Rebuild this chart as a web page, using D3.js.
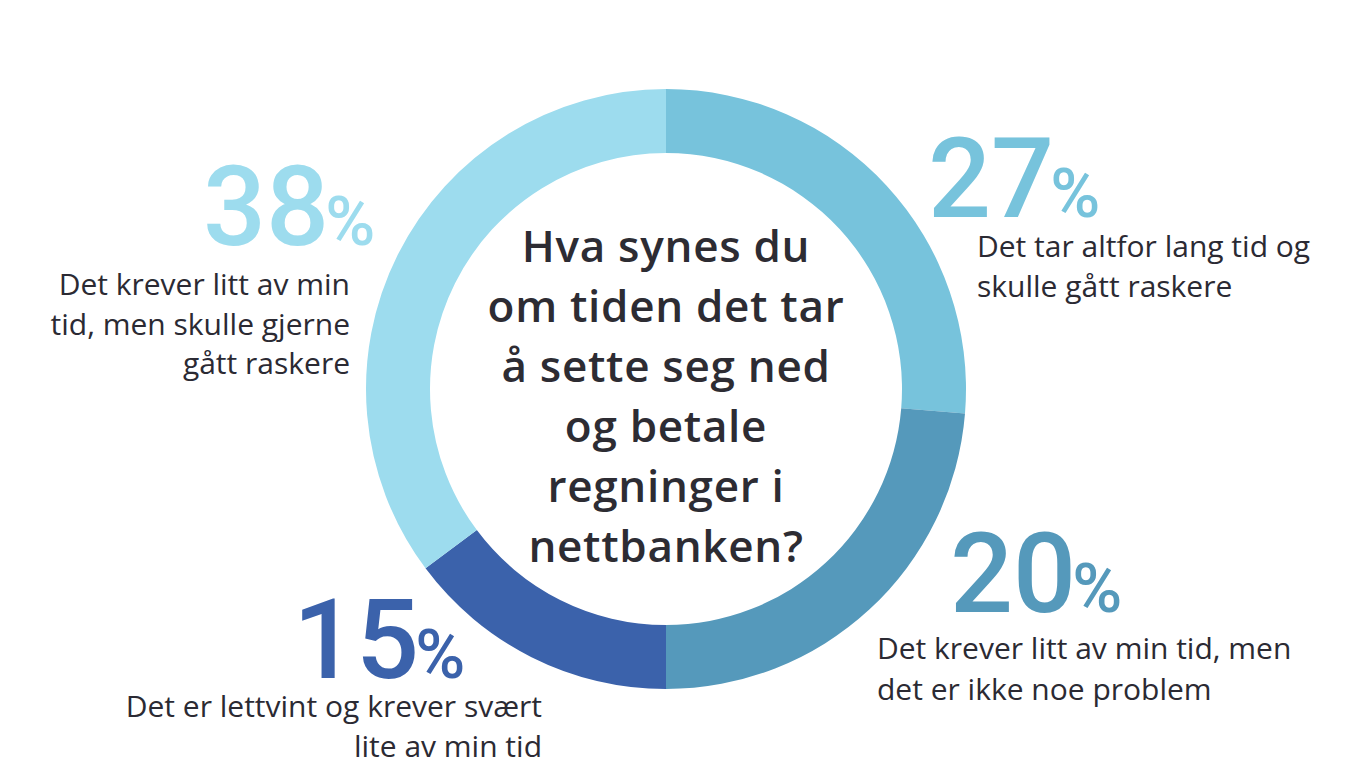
<!DOCTYPE html>
<html>
<head>
<meta charset="utf-8">
<script src="https://cdn.jsdelivr.net/npm/d3@7"></script>
<style>
  html, body { margin: 0; padding: 0; background: #fff; }
  svg { display: block; }
</style>
</head>
<body>
<svg class="canvas" width="1366" height="768"></svg>
<script>
// answers, clockwise from 12 o'clock
const answers = [
  ["Det tar altfor lang tid og", "skulle gått raskere"],
  ["Det krever litt av min tid, men", "det er ikke noe problem"],
  ["Det er lettvint og krever svært", "lite av min tid"],
  ["Det krever litt av min", "tid, men skulle gjerne", "gått raskere"]
];
const percents = [27, 20, 15, 38];
// how much of the ring each slice covers in the picture (does not follow the labels exactly)
const ringShare = [26.3, 23.7, 14.8, 35.2];
const colors = ["#77c3dc", "#5599bb", "#3b62ab", "#9ddcee"];
const question = ["Hva synes du", "om tiden det tar", "å sette seg ned", "og betale", "regninger i", "nettbanken?"];

const width = 1366;
const height = 768;
const cx = 666;
const cy = 389;
const outerR = 300;
const innerR = 236;

const svg = d3.select(".canvas");

const pie = d3.pie().sort(null).value(d => d.share);
const arc = d3.arc().innerRadius(innerR).outerRadius(outerR);

const slices = percents.map((p, i) => ({ id: i, pct: p, share: ringShare[i], lines: answers[i], color: colors[i] }));

svg.append("g")
  .attr("transform", `translate(${cx},${cy})`)
  .selectAll("path")
  .data(pie(slices))
  .enter()
  .append("path")
  .attr("d", arc)
  .attr("fill", d => d.data.color);

// question in the middle
svg.append("text")
  .attr("text-anchor", "middle")
  .style("font-family", "'Open Sans', sans-serif")
  .style("font-weight", 600)
  .style("font-size", "44px")
  .style("letter-spacing", "0.7px")
  .style("fill", "#2d2c33")
  .selectAll("tspan")
  .data(question)
  .enter()
  .append("tspan")
  .attr("x", cx)
  .attr("y", (d, i) => 262 + i * 60)
  .text(d => d);

// where the big numbers and the answer texts go
const place = [
  { nx: 928, ny: 217, lx: 977, ly: 257, lAnchor: "start", lh: 40 },
  { nx: 950, ny: 612, lx: 877, ly: 659, lAnchor: "start", lh: 41 },
  { nx: 293, ny: 678, lx: 542, ly: 717, lAnchor: "end", lh: 40 },
  { nx: 203, ny: 245, lx: 350, ly: 295, lAnchor: "end", lh: 39.5 }
];

const labels = svg.append("g")
  .selectAll("g")
  .data(slices)
  .enter()
  .append("g");

const num = labels.append("text")
  .attr("x", d => place[d.id].nx)
  .attr("y", d => place[d.id].ny)
  .style("font-family", "Roboto, sans-serif")
  .style("font-weight", 500)
  .style("fill", d => d.color);

num.append("tspan")
  .style("font-size", "111px")
  .text(d => d.pct);

num.append("tspan")
  .attr("dx", -4)
  .style("font-size", "68px")
  .text("%");

labels.append("text")
  .attr("text-anchor", d => place[d.id].lAnchor)
  .style("font-family", "'Open Sans', sans-serif")
  .style("font-size", "30px")
  .style("fill", "#2b2a33")
  .selectAll("tspan")
  .data(d => d.lines.map((t, k) => ({ t, k, p: place[d.id] })))
  .enter()
  .append("tspan")
  .attr("x", d => d.p.lx)
  .attr("y", d => d.p.ly + d.k * d.p.lh)
  .text(d => d.t);
</script>
</body>
</html>
